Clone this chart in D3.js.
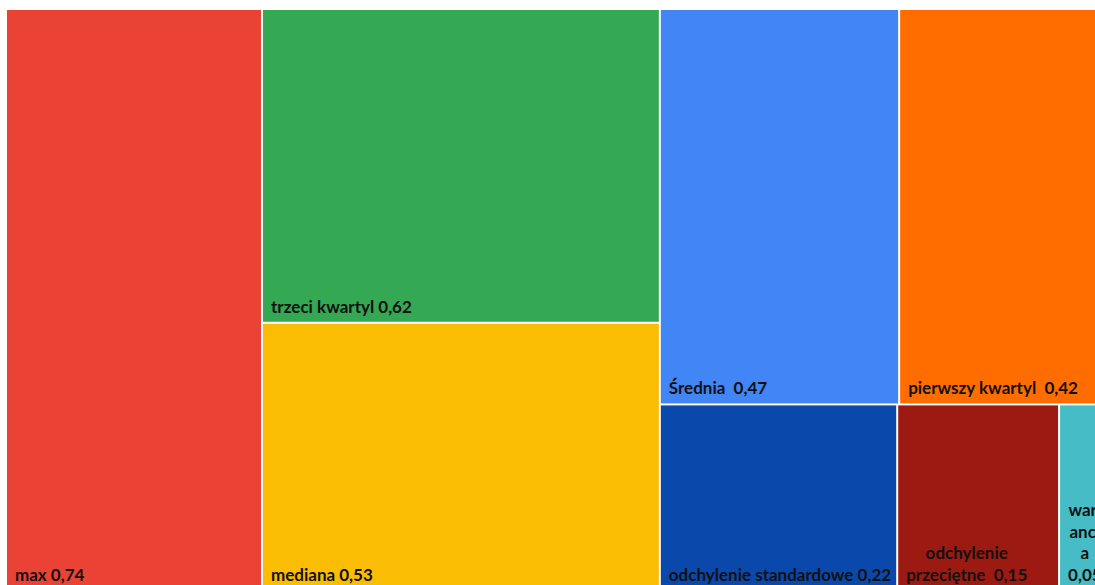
<!DOCTYPE html>
<html>
<head>
<meta charset="utf-8">
<script src="https://cdn.jsdelivr.net/npm/d3@7"></script>
<style>
  html, body { margin: 0; padding: 0; background: #fff; overflow: hidden; }
  svg { display: block; }
  .lbl { font-family: Lato, 'Open Sans', sans-serif; font-weight: bold; font-size: 17px; fill: #111; white-space: pre; }
</style>
</head>
<body>
<div id="chart"></div>
<script>
// statystyki opisowe
const names = ['max', 'trzeci kwartyl', 'mediana', 'Średnia ', 'pierwszy kwartyl ', 'odchylenie standardowe', 'odchylenie przeciętne ', 'wariancja']
const values = [0.74, 0.62, 0.53, 0.47, 0.42, 0.22, 0.15, 0.05]
const colors = ['#EA4335', '#34A853', '#FBBC04', '#4285F4', '#FF6D01', '#0B48AB', '#9C1A12', '#46BDC6']
// grouping of the cells as in the picture: column / column / (row, row)
const groups = [[0], [1, 2], [[3, 4], [5, 6, 7]]]

const width = 1095
const height = 585
const fmt = d => d3.format('.2f')(d).replace('.', ',')

const svg = d3.select('#chart')
  .append('svg')
  .attr('width', width)
  .attr('height', height)

const leaf = i => ({ name: names[i], value: values[i], color: colors[i] })
const build = g => Array.isArray(g) ? { children: g.map(build) } : leaf(g)

const root = d3.hierarchy({ children: groups.map(g => g.length === 1 ? leaf(g[0]) : build(g)) })
  .sum(d => d.value || 0)

// chart is larger than the window, it gets cropped on the right and bottom
d3.treemap()
  .tile(d3.treemapSliceDice)
  .size([1105, 580])
  .paddingInner(2)
  .round(false)(root)

const g = svg.append('g').attr('transform', 'translate(7,10)')

const cell = g.selectAll('g.cell')
  .data(root.leaves())
  .join('g')
  .attr('class', 'cell')
  .attr('transform', d => `translate(${d.x0},${d.y0})`)

cell.append('rect')
  .attr('width', d => d.x1 - d.x0)
  .attr('height', d => d.y1 - d.y0)
  .attr('fill', d => d.data.color)

const lineH = 21.5
cell.each(function (d) {
  const w = d.x1 - d.x0
  const maxW = w - 10 // word wrap width
  const maxB = w - 18 // width for breaking long words
  const text = d3.select(this).append('text').attr('class', 'lbl')
  const full = d.data.name + ' ' + fmt(d.data.value)

  // measure helper
  const probe = text.append('tspan')
  const measure = s => { probe.text(s); return probe.node().getComputedTextLength() }

  let lines = []
  if (measure(full) <= maxW) {
    lines = [full]
  }
  else {
    const words = full.split(' ')
    let cur = ''
    words.forEach(wd => {
      const test = cur ? cur + ' ' + wd : wd
      if (!cur || measure(test) <= maxW) {
        cur = test
      }
      else {
        lines.push(cur)
        cur = wd
      }
    })
    if (cur) lines.push(cur)
    // break words that are still too long (numbers stay whole)
    const out = []
    lines.forEach(l => {
      let rest = l
      while (/[a-z]/i.test(rest) && measure(rest) > maxB && rest.length > 1) {
        let k = rest.length - 1
        while (k > 1 && measure(rest.slice(0, k)) > maxB) k--
        out.push(rest.slice(0, k))
        rest = rest.slice(k)
      }
      out.push(rest)
    })
    lines = out.map(l => l.trim())
  }

  const widths = lines.map(l => measure(l))
  probe.remove()
  const blockW = d3.max(widths)
  const n = lines.length
  const baseY = d.y1 - d.y0 - 9
  text.selectAll('tspan.ln')
    .data(lines)
    .join('tspan')
    .attr('class', 'ln')
    .attr('x', n > 1 ? 8 + blockW / 2 : 8)
    .attr('text-anchor', n > 1 ? 'middle' : 'start')
    .attr('y', (l, i) => baseY - (n - 1 - i) * lineH)
    .text(l => l)
})
</script>
</body>
</html>
